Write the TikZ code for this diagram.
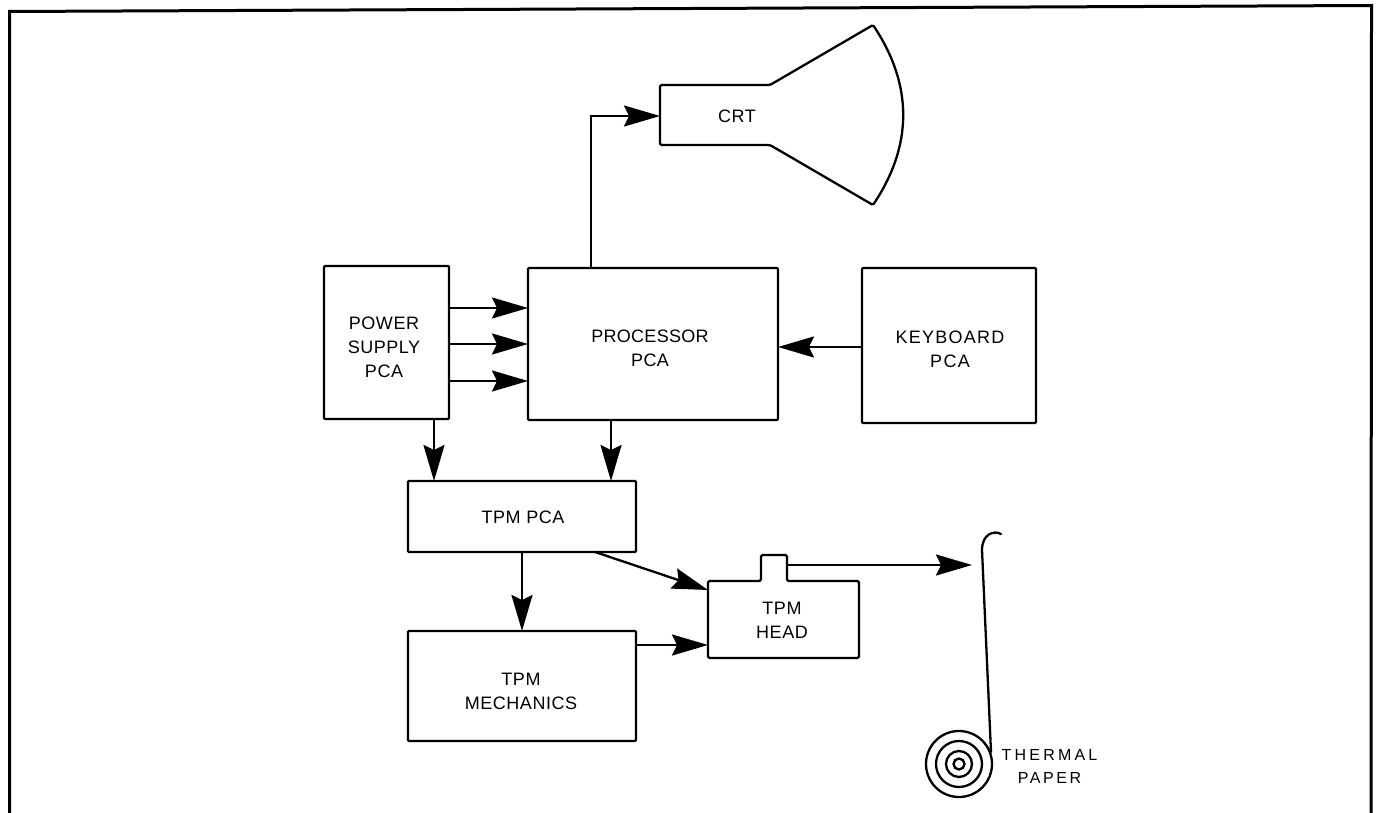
\documentclass[tikz,border=0pt]{standalone}
\usepackage{fontspec}
\setmainfont{Liberation Sans}
\usetikzlibrary{arrows.meta}
\newcommand{\lblfont}{\fontsize{18}{24}\selectfont\addfontfeature{LetterSpace=3}}
\tikzset{
  x=1pt,y=-1pt,
  ln/.style={line width=2.3pt,black},
  blk/.style={ln,draw,rectangle,rounded corners=1pt,inner sep=0pt,outer sep=0pt},
  lab/.style={inner sep=0pt,align=center,font=\lblfont},
  arr/.style={ln,-{Stealth[length=36pt,width=21pt,inset=5pt]}},
  ring/.style={circle,ln,draw,inner sep=0pt,outer sep=0pt},
}
\begin{document}
\begin{tikzpicture}
\useasboundingbox (0,0) rectangle (1376,813);
\draw[line width=3pt] (9.5,813) -- (9.5,11.5) -- (1371.5,5.5) -- (1371,813);
\node[blk,minimum width=125pt,minimum height=153pt] (ps) at (386.5,342.5) {};
\node[lab] (pst) at (384,347) {POWER\\SUPPLY\\PCA};
\node[blk,minimum width=250pt,minimum height=152pt] (pp) at (653,344) {};
\node[lab,font=\fontsize{18}{24}\selectfont\addfontfeature{LetterSpace=1.5}] (ppt) at (650,348) {PROCESSOR\\PCA};
\node[blk,minimum width=174pt,minimum height=155pt] (kb) at (949,345.5) {};
\node[lab,font=\fontsize{18}{24}\selectfont\addfontfeature{LetterSpace=7}] (kbt) at (950,349.5) {KEYBOARD\\PCA};
\node[blk,minimum width=228pt,minimum height=71pt] (tp) at (522,516.5) {};
\node[lab] (tpt) at (523,517) {TPM PCA};
\node[blk,minimum width=228pt,minimum height=110pt] (tm) at (522,686) {};
\node[lab] (tmt) at (521,691.5) {TPM\\MECHANICS};
\draw[ln,rounded corners=1.5pt] (708,581) -- (761,581) -- (761,555) -- (787,555) -- (787,581) -- (859,581) -- (859,658) -- (708,658) -- cycle;
\node[lab] (hd) at (782,620.5) {TPM\\HEAD};
\coordinate (headW) at (708,619);
\coordinate (tab) at (787,565);
\draw[ln,rounded corners=1.5pt] (660,85) -- (770,85) -- (873,25) .. controls (913,85) and (913,145) .. (873,205) -- (770,145) -- (660,145) -- cycle;
\node[lab] (crt) at (737,116) {CRT};
\coordinate (crtW) at (660,116);
\coordinate (y1) at (0,308);
\coordinate (y2) at (0,344);
\coordinate (y3) at (0,381);
\draw[arr] (ps.east |- y1) -- (pp.west |- y1);
\draw[arr] (ps.east |- y2) -- (pp.west |- y2);
\draw[arr] (ps.east |- y3) -- (pp.west |- y3);
\coordinate (y4) at (0,347);
\draw[arr] (kb.west |- y4) -- (pp.east |- y4);
\coordinate (x1) at (591,0);
\draw[arr] (pp.north -| x1) |- (crtW);
\coordinate (x2) at (434,0);
\draw[arr] (ps.south -| x2) -- (tp.north -| x2);
\coordinate (x3) at (611,0);
\draw[arr] (pp.south -| x3) -- (tp.north -| x3);
\draw[arr] (tp.south) -- (tm.north);
\coordinate (x4) at (595,0);
\coordinate (headA) at (708,590);
\draw[arr] (tp.south -| x4) -- (headA);
\coordinate (y5) at (0,645);
\draw[arr] (tm.east |- y5) -- (headW |- y5);
\coordinate (gap) at (972,565);
\draw[arr] (tab) -- (gap);
\node[ring,minimum size=66pt] (r1) at (959,764) {};
\node[ring,minimum size=46pt] (r2) at (959,764) {};
\node[ring,minimum size=26pt] (r3) at (959,764) {};
\node[ring,minimum size=11pt] (r4) at (959,764) {};
\coordinate (hookend) at (1001,534);
\draw[ln,line cap=round] (hookend) .. controls (994,530) and (982,534) .. (982,550) -- (991,752);
\node[inner sep=0pt,align=center,font=\fontsize{16}{23}\selectfont] (tl) at (1049.5,766.5) {\addfontfeature{LetterSpace=20}THERMAL\\\addfontfeature{LetterSpace=16}PAPER};
\end{tikzpicture}
\end{document}
